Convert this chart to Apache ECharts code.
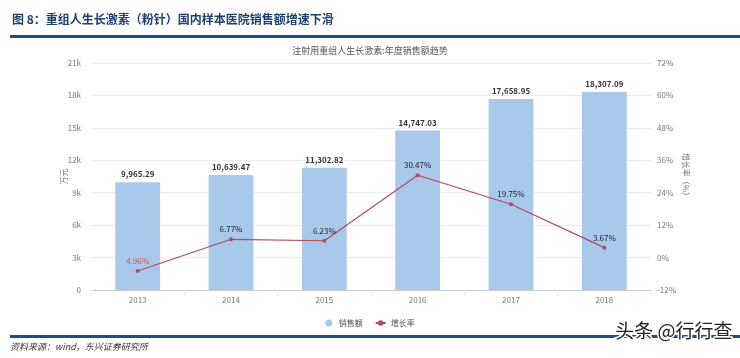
<!DOCTYPE html>
<html><head><meta charset="utf-8">
<script src="https://cdn.jsdelivr.net/npm/echarts@6/dist/echarts.min.js"></script>
<style>html,body{margin:0;padding:0;background:#fff;}#c{width:740px;height:358px;}</style>
</head><body><div id="c"></div>
<script>
const categories = ['2013','2014','2015','2016','2017','2018'];
const sales = [9965.29, 10639.47, 11302.82, 14747.03, 17658.95, 18307.09];
const growth = [-4.96, 6.77, 6.23, 30.47, 19.75, 3.67];
const leftTicks = {min:0, max:21000, interval:3000};
const rightTicks = {min:-12, max:72, interval:12};

const chart = echarts.init(document.getElementById('c'));
const fmtNum = v => v.toLocaleString('en-US',{minimumFractionDigits:2, maximumFractionDigits:2});
const fontCN = '"Noto Sans CJK SC","Noto Sans",sans-serif';
chart.setOption({
  animation:false,
  textStyle:{fontFamily:fontCN},
  title:{text:'注射用重组人生长激素:年度销售额趋势', left:'center', top:41,
    textStyle:{fontSize:9, fontWeight:'normal', color:'#555'}},
  grid:{left:91, right:89, top:63, bottom:68},
  legend:{bottom:26, left:'center', itemWidth:10, itemHeight:7, itemGap:12,
    textStyle:{fontSize:8, color:'#555'},
    data:[{name:'销售额', icon:'circle'},{name:'增长率'}]},
  xAxis:{type:'category', data:categories,
    axisLine:{lineStyle:{color:'#ccc'}},
    axisTick:{show:true, alignWithLabel:false, lineStyle:{color:'#eee'}, length:6},
    axisLabel:{fontSize:8, color:'#777', margin:6}},
  yAxis:[
    {type:'value', min:leftTicks.min, max:leftTicks.max, interval:leftTicks.interval,
     name:'万元', nameLocation:'middle', nameGap:23, nameRotate:90, nameMoveOverlap:false,
     nameTextStyle:{fontSize:8, color:'#777'},
     axisLabel:{fontSize:8, color:'#777', margin:10, formatter:v=> v===0?'0':(v/1000)+'k'},
     axisLine:{show:false}, axisTick:{show:false},
     splitLine:{lineStyle:{color:'#ececec'}}},
    {type:'value', min:rightTicks.min, max:rightTicks.max, interval:rightTicks.interval,
     name:'增长率（%）', nameLocation:'middle', nameGap:31, nameRotate:-90, nameMoveOverlap:false,
     nameTextStyle:{fontSize:8, color:'#777'},
     axisLabel:{fontSize:8, color:'#777', margin:6, formatter:'{value}%'},
     axisLine:{show:false}, axisTick:{show:false}, splitLine:{show:false}}
  ],
  series:[
    {name:'销售额', type:'bar', data:sales, barWidth:'48%',
     itemStyle:{color:'#a8c8ec'},
     label:{show:true, position:'top', fontSize:8, fontWeight:'bold', color:'#333', distance:4,
       formatter:p=>fmtNum(p.value)}},
    {name:'增长率', type:'line', yAxisIndex:1,
     data:growth.map(v=> v<0 ? {value:v, label:{color:'#e0505a'}} : v),
     symbol:'circle', symbolSize:4,
     lineStyle:{color:'#b04a5c', width:1.2}, itemStyle:{color:'#b04a5c'},
     label:{show:true, position:'top', fontSize:8, distance:4,
       formatter:p=> Math.abs(p.value).toFixed(2)+'%',
       color:'#222'}}
  ],
  graphic:[
    {type:'text', left:12, top:13, style:{text:'图 8：重组人生长激素（粉针）国内样本医院销售额增速下滑',
      font:'bold 12px '+fontCN, fill:'#1f3f6e'}},
    {type:'rect', shape:{x:10, y:35, width:730, height:3}, style:{fill:'#1f4e79'}},
    {type:'rect', shape:{x:10, y:335, width:730, height:3}, style:{fill:'#1f4e79'}},
    {type:'text', left:10, top:342, style:{text:'资料来源：wind，东兴证券研究所',
      font:'italic 9px '+fontCN, fill:'#333'}},
    {type:'text', right:6, top:320, z:100, style:{text:'头条 @行行查',
      font:'19px '+fontCN, fill:'#222', stroke:'#fff', lineWidth:3}}
  ]
});
</script></body></html>
